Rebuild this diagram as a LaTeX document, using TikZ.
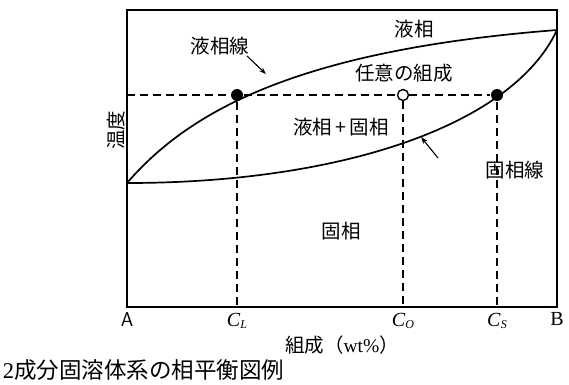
\documentclass[tikz,border=0pt]{standalone}
\usepackage{fontspec}
\setmainfont{Liberation Serif}
\newfontfamily\jp{Noto Sans CJK JP}
\usetikzlibrary{arrows.meta}

\begin{document}
\begin{tikzpicture}[x=1pt, y=-1pt, line width=1.7pt,
     every node/.style={font=\jp\fontsize{19.5}{22}\selectfont, inner sep=1pt},
     axislabel/.style={font=\fontsize{20}{22}\selectfont},
     guide/.style={line width=1.4pt, dash pattern=on 8pt off 5pt},
     dot/.style={circle, fill, inner sep=0pt, minimum size=12pt},
     opendot/.style={circle, draw, fill=white, line width=1.4pt, inner sep=0pt, minimum size=11pt},
     pointer/.style={line width=1.1pt, -{Stealth[length=7pt, width=5pt]}}]

   \useasboundingbox (0,0) rectangle (569,384);

   % frame
   \coordinate (A) at (127,307);
   \coordinate (B) at (557,307);
   \coordinate (top) at (557,30);
   \coordinate (mix) at (127,183);
   \draw (127,10) -- (A) -- (B) -- (557,10) -- cycle;

   % liquidus and solidus
   \draw (mix) .. controls (190,110) and (300,50) .. (top);
   \draw (mix) .. controls (340,183) and (512,126) .. (top);

   % tie line
   \node[dot] (cl) at (237,95) {};
   \node[opendot] (co) at (403,95) {};
   \node[dot] (cs) at (497,95) {};
   \coordinate (left) at (127,95);
   \coordinate (clb) at (237,307);
   \coordinate (cob) at (403,307);
   \coordinate (csb) at (497,307);
   \draw[guide] (left) -- (cl) -- (co) -- (cs);
   \draw[guide] (cl) -- (clb);
   \draw[guide] (co) -- (cob);
   \draw[guide] (cs) -- (csb);

   % regions
   \node (liq) at (414,29) {液相};
   \node (twophase) at (341,127) {液相\,+\,固相};
   \node (sol) at (341,231) {固相};
   \node (any) at (404,73) {任意の組成};
   \node (liqline) at (220,46) {液相線};
   \node (solline) at (515,170) {固相線};
   \coordinate (liqtail) at (247,56);
   \coordinate (liqtip) at (266,74);
   \coordinate (soltail) at (438,158);
   \coordinate (soltip) at (421,137);
   \draw[pointer] (liqtail) -- (liqtip);
   \draw[pointer] (soltail) -- (soltip);
   \node[rotate=90] (temp) at (116,130) {温度};

   % axis
   \node[axislabel, below=4pt] (la) at (A) {\sffamily A};
   \node[axislabel, below=4pt] (lcl) at (clb) {\textit{C}\raisebox{-2pt}{\fontsize{12}{12}\selectfont\textit{L}}};
   \node[axislabel, below=4pt] (lco) at (cob) {\textit{C}\raisebox{-2pt}{\fontsize{12}{12}\selectfont\textit{O}}};
   \node[axislabel, below=4pt] (lcs) at (csb) {\textit{C}\raisebox{-2pt}{\fontsize{12}{12}\selectfont\textit{S}}};
   \node[axislabel, below=4pt] (lb) at (B) {B};
   \node (xlabel) at (342,345) {組成（{\rmfamily wt\%}）};

   % caption
   \node[font=\jp\fontsize{22.5}{25}\selectfont, anchor=west] (caption) at (1,370) {{\rmfamily 2}成分固溶体系の相平衡図例};
\end{tikzpicture}
\end{document}
